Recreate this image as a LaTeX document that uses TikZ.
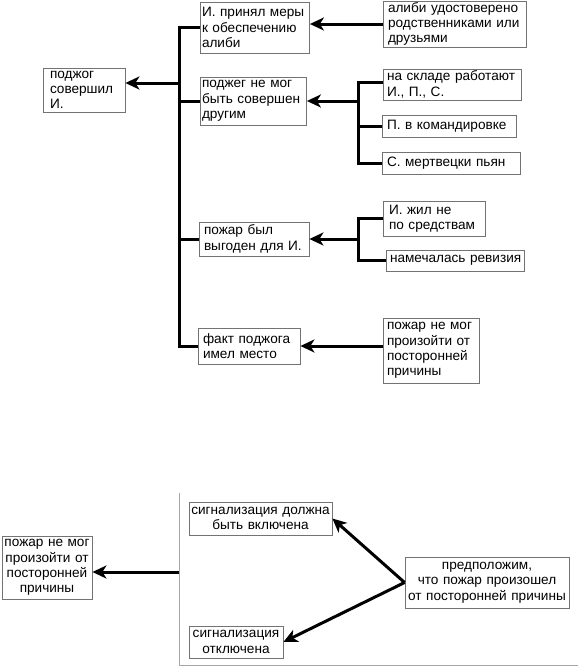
\documentclass[tikz,border=0pt]{standalone}
\usepackage{fontspec}
\setmainfont{Liberation Sans}
\usetikzlibrary{arrows.meta}
\begin{document}
\begin{tikzpicture}[x=1pt,y=-1pt,
  box/.style={draw=black!55, line width=0.8pt, inner xsep=3pt, inner ysep=0pt,
    font=\fontsize{13.6}{15.3}\selectfont},
  lbox/.style={box, align=left},
  cbox/.style={box, align=center},
  conn/.style={line width=3pt, line cap=butt, line join=miter},
  arr/.style={conn, -{Stealth[length=14pt,width=13pt,inset=4pt]}},
  frame/.style={draw=black!35, line width=0.8pt}]
\useasboundingbox (0,0) rectangle (578,667);
% top nodes
\node[lbox, minimum width=78pt, minimum height=44pt, text width=68pt, inner xsep=7pt] (b1) at (84,90) {поджог\\совершил\\И.};
\node[lbox, minimum width=108pt, minimum height=51pt, text width=106pt, inner xsep=1.5pt] (b2) at (255,27.5) {И. принял меры\\к обеспечению\\алиби};
\node[lbox, minimum width=105pt, minimum height=48pt, text width=103pt, inner xsep=1.5pt] (b3) at (253.5,101) {поджег не мог\\быть совершен\\другим};
\node[lbox, minimum width=106pt, minimum height=34pt, text width=100pt, inner xsep=5pt] (b4) at (254,239) {пожар был\\выгоден для И.};
\node[lbox, minimum width=96pt, minimum height=36pt, text width=92pt, inner xsep=5pt] (b5) at (249,346) {факт поджога\\имел место};
\node[lbox, minimum width=139pt, minimum height=46pt, text width=133pt, inner xsep=5pt] (a1) at (454.5,24) {алиби удостоверено\\родственниками или\\друзьями};
\node[lbox, minimum width=134pt, minimum height=31pt, text width=130pt, inner xsep=4pt] (c1) at (452,84.5) {на складе работают\\И., П., С.};
\node[lbox, minimum width=128pt, minimum height=22pt, text width=124pt, inner xsep=5pt] (c2) at (449,126) {П. в командировке};
\node[lbox, minimum width=132pt, minimum height=22pt, text width=128pt, inner xsep=5pt] (c3) at (451,163) {С. мертвецки пьян};
\node[lbox, minimum width=96pt, minimum height=35pt, text width=90pt, inner xsep=6pt] (d1) at (434,218.5) {И. жил не\\по средствам};
\node[lbox, minimum width=138pt, minimum height=21pt, text width=130pt, inner xsep=4pt] (d2) at (455,260.5) {\mbox{намечалась ревизия}};
\node[lbox, minimum width=90pt, minimum height=65pt, text width=88pt, inner xsep=4pt] (e1) at (431,350.5) {пожар не мог\\произойти от\\посторонней\\причины};
% bottom nodes
\node[cbox, minimum width=90pt, minimum height=63pt, text width=88pt, inner xsep=1pt] (f1) at (47,567.5) {пожар не мог\\произойти от\\посторонней\\причины};
\node[cbox, minimum width=143pt, minimum height=33pt, text width=141pt, inner xsep=1pt] (g1) at (260.5,518.5) {сигнализация должна\\быть включена};
\node[cbox, minimum width=94pt, minimum height=32pt, text width=92pt, inner xsep=1pt] (g2) at (236,642) {сигнализация\\отключена};
\node[cbox, minimum width=164pt, minimum height=51pt, text width=160pt, inner xsep=2pt] (h) at (487,582.5) {предположим,\\что пожар произошел\\от посторонней причины};
% coordinates
\coordinate (T) at (179,0);
\coordinate (S) at (358,0);
\coordinate (j1) at (179,83);
\coordinate (s3) at (358,101);
\coordinate (s4) at (358,239);
\coordinate (j2) at (179,572);
\coordinate (fl) at (179,493);
\coordinate (fc) at (179,665);
\coordinate (fr) at (578,665);
% main trunk
\draw[conn] (b2.west) -- (b2.west -| T) -- (b5.west -| T) -- (b5.west);
\draw[conn] (b3.west) -- (b3.west -| T);
\draw[conn] (b4.west) -- (b4.west -| T);
\draw[arr] (j1) -- (j1 -| b1.east);
% alibi
\draw[arr] (a1.west) -- (a1.west -| b2.east);
% sub trunk 1
\draw[conn] ([yshift=2.5pt]c1.west) -- ([yshift=2.5pt]c1.west -| S) -- (c3.west -| S) -- (c3.west);
\draw[conn] (c2.west) -- (c2.west -| S);
\draw[arr] (s3) -- (s3 -| b3.east);
% sub trunk 2
\draw[conn] (d1.west) -- (d1.west -| S) -- (d2.west -| S) -- (d2.west);
\draw[arr] (s4) -- (s4 -| b4.east);
% e1
\draw[arr] (e1.west |- b5.east) -- (b5.east);
% bottom
\draw[frame] (fl) -- (fc) -- (fr);
\draw[arr] (j2) -- (j2 -| f1.east);
\draw[arr] (h.west) -- (g1.east);
\draw[arr] (h.west) -- (g2.east);
\end{tikzpicture}
\end{document}
